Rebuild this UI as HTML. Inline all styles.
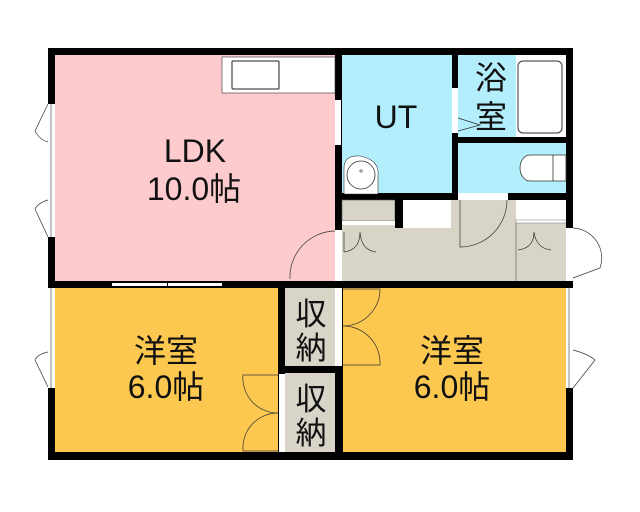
<!DOCTYPE html>
<html><head><meta charset="utf-8"><style>
html,body{margin:0;padding:0;background:#fff;width:640px;height:512px;overflow:hidden}
text{font-family:"Liberation Sans","Noto Sans CJK JP",sans-serif;fill:#111}
</style></head><body>
<svg width="640" height="512" viewBox="0 0 640 512" xmlns="http://www.w3.org/2000/svg">
<rect x="48" y="48" width="525" height="412" fill="#000"/>
<rect x="55" y="55" width="280" height="226" fill="#fdcbcd"/>
<rect x="342" y="55" width="110" height="138" fill="#b3eefc"/>
<rect x="458" y="55" width="108" height="82" fill="#b3eefc"/>
<rect x="458" y="143" width="108" height="50" fill="#b3eefc"/>
<rect x="342" y="200" width="224" height="81" fill="#d8d5c8"/>
<rect x="55" y="288" width="223" height="164" fill="#fdc850"/>
<rect x="285" y="288" width="50" height="78" fill="#d8d5c8"/>
<rect x="285" y="373" width="50" height="79" fill="#d8d5c8"/>
<rect x="343" y="288" width="223" height="164" fill="#fdc850"/>
<rect x="222" y="57" width="113" height="36" fill="#fff" stroke="#333" stroke-width="0.6"/>
<rect x="232" y="61" width="47" height="28" fill="#fff" stroke="#222" stroke-width="1" rx="1"/>
<rect x="516" y="55" width="50" height="82" fill="#fff"/>
<rect x="518" y="61" width="44" height="72" rx="5" fill="#fff" stroke="#333" stroke-width="1"/>
<rect x="452" y="88" width="6" height="45" fill="#fff"/>
<path d="M458 118 L480 125 L458 131" fill="none" stroke="#333" stroke-width="0.8"/>
<path d="M566 155 L530 155 A10 13 0 0 0 530 181 L566 181 Z" fill="#fff" stroke="#333" stroke-width="0.8"/>
<line x1="553" y1="155" x2="553" y2="181" stroke="#333" stroke-width="0.8"/>
<path d="M344 194 L344 168 Q344 155 360 156 Q380 160 378 176 L378 194 Z" fill="#fff" stroke="#333" stroke-width="0.6"/>
<circle cx="361" cy="175" r="14" fill="#fff" stroke="#333" stroke-width="0.8"/>
<circle cx="361" cy="171" r="1.2" fill="none" stroke="#333" stroke-width="0.6"/>
<rect x="335" y="100" width="6" height="45" fill="#fff"/>
<rect x="342" y="200" width="53" height="21" fill="#d8d5c8" stroke="#555" stroke-width="0.6"/>
<rect x="342" y="221" width="53" height="4" fill="#fff"/>
<rect x="395" y="200" width="8" height="28" fill="#000"/>
<rect x="403" y="200" width="48" height="28" fill="#fff"/>
<rect x="458" y="193" width="50" height="7" fill="#fff"/>
<path d="M460 200 L460 247 A47 47 0 0 0 507 200" fill="none" stroke="#333" stroke-width="0.7"/>
<rect x="516" y="200" width="50" height="20" fill="#fff"/>
<rect x="516" y="220" width="50" height="3" fill="#fff" stroke="#555" stroke-width="0.4"/>
<line x1="516" y1="223" x2="516" y2="281" stroke="#555" stroke-width="0.6"/>
<path d="M344 252 Q360 250 360 232 M360 232 Q361 250 376 252 M344 252 L344 232" fill="none" stroke="#333" stroke-width="0.7"/>
<path d="M518 250 Q534 248 534 232 M534 232 Q536 248 551 250" fill="none" stroke="#333" stroke-width="0.7"/>
<rect x="335" y="230" width="7" height="51" fill="#fff"/>
<path d="M335 231 A46 46 0 0 0 290 279" fill="none" stroke="#333" stroke-width="0.7"/>
<rect x="566" y="228" width="7" height="53" fill="#fff"/>
<path d="M573 228 A30 30 0 0 1 600 268 L573 278" fill="none" stroke="#333" stroke-width="0.7"/>
<rect x="48" y="104" width="7" height="133" fill="#fff"/>
<line x1="51" y1="104" x2="51" y2="237" stroke="#333" stroke-width="0.6"/>
<path d="M48 104 L35 131 Q40 140 48 142" fill="none" stroke="#333" stroke-width="0.7"/>
<path d="M48 200 Q38 203 35 209 L48 237" fill="none" stroke="#333" stroke-width="0.7"/>
<rect x="112" y="283" width="55" height="3" fill="#fff"/>
<rect x="168" y="283" width="54" height="3" fill="#fff"/>
<rect x="48" y="288" width="7" height="100" fill="#fff"/>
<line x1="51" y1="288" x2="51" y2="388" stroke="#333" stroke-width="0.6"/>
<path d="M48 352 Q38 354 35 360 L48 387" fill="none" stroke="#333" stroke-width="0.7"/>
<rect x="566" y="288" width="7" height="100" fill="#fff"/>
<line x1="569" y1="288" x2="569" y2="388" stroke="#333" stroke-width="0.6"/>
<path d="M573 350 Q588 354 595 360 L573 388" fill="none" stroke="#333" stroke-width="0.7"/>
<rect x="335" y="288" width="7" height="78" fill="#fff"/>
<path d="M343 289 L380 289 A37 37 0 0 1 343 326 A37 37 0 0 1 380 365 L343 365" fill="none" stroke="#333" stroke-width="0.7"/>
<rect x="279" y="374" width="6" height="78" fill="#fff"/>
<path d="M278 375 L243 375 A35 35 0 0 0 278 413 A35 35 0 0 0 243 451 L278 451" fill="none" stroke="#333" stroke-width="0.7"/>
<text x="195" y="162" font-size="32" text-anchor="middle">LDK</text>
<text x="194" y="200" font-size="32" text-anchor="middle">10.0帖</text>
<text x="396" y="128" font-size="32" text-anchor="middle">UT</text>
<text x="491" y="89" font-size="32" text-anchor="middle">浴</text>
<text x="491" y="128" font-size="32" text-anchor="middle">室</text>
<text x="166" y="362" font-size="32" text-anchor="middle">洋室</text>
<text x="166" y="398" font-size="32" text-anchor="middle">6.0帖</text>
<text x="452" y="362" font-size="32" text-anchor="middle">洋室</text>
<text x="452" y="398" font-size="32" text-anchor="middle">6.0帖</text>
<text x="311" y="325" font-size="31" text-anchor="middle">収</text>
<text x="311" y="359" font-size="31" text-anchor="middle">納</text>
<text x="311" y="410" font-size="31" text-anchor="middle">収</text>
<text x="311" y="444" font-size="31" text-anchor="middle">納</text>
</svg>
</body></html>
